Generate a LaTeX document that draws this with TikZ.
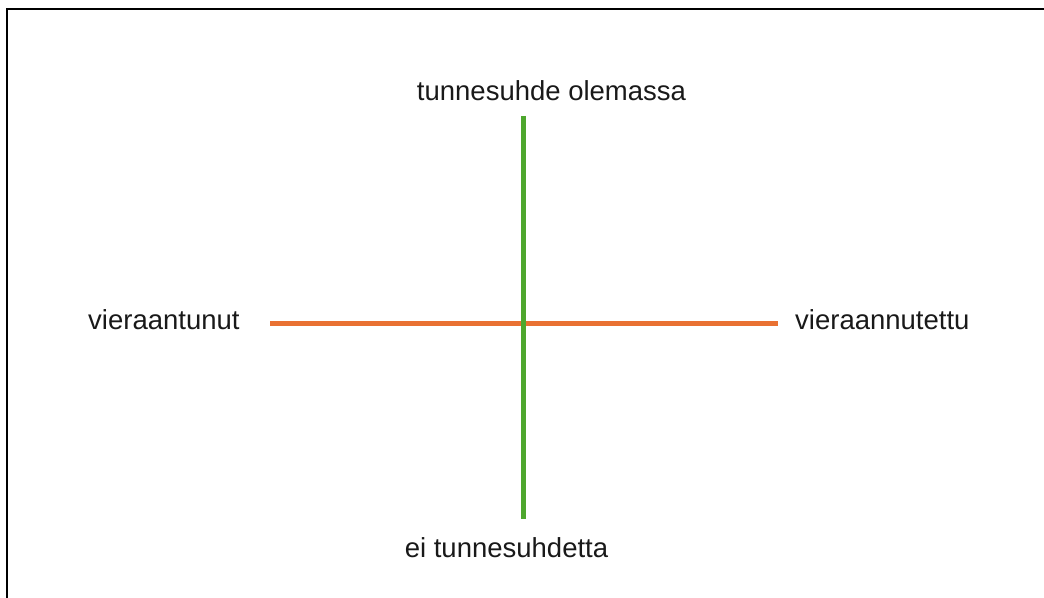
\documentclass[tikz,border=0pt]{standalone}
\usepackage{fontspec}
\setmainfont{Liberation Sans}
\begin{document}
\begin{tikzpicture}[x=1pt,y=1pt,
  lbl/.style={inner sep=0pt,font=\fontsize{27.5}{30}\selectfont,text=black!90},
  axisv/.style={draw={rgb,255:red,78;green,167;blue,46},line width=5.5pt},
  axish/.style={draw={rgb,255:red,233;green,113;blue,50},line width=5pt}]
\useasboundingbox (0,0) rectangle (1044,597);
\draw[line width=2.5pt,black] (7,-20) -- (7,588) -- (1060,588);
\node[lbl,anchor=base] (top) at (551.5,496) {tunnesuhde olemassa};
\node[lbl,anchor=base] (bot) at (506.5,39) {ei tunnesuhdetta};
\node[lbl,anchor=base west] (left) at (88,267) {vieraantunut};
\node[lbl,anchor=base west] (right) at (795,267) {vieraannutettu};
\coordinate (hl) at (270,273.5);
\coordinate (hr) at (778,273.5);
\coordinate (vt) at (523.5,481);
\coordinate (vb) at (523.5,78);
\draw[axish] (hl) -- (hr);
\draw[axisv] (vt) -- (vb);
\end{tikzpicture}
\end{document}
